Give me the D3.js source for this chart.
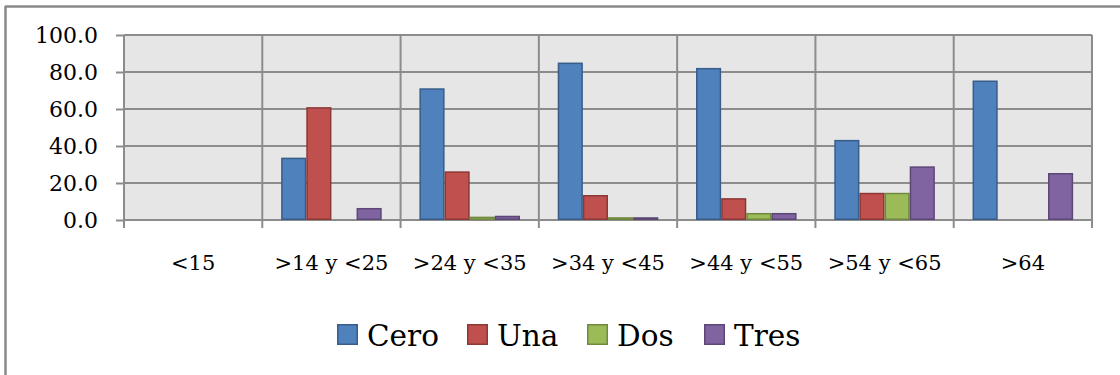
<!DOCTYPE html>
<html><head><meta charset="utf-8">
<script src="https://cdn.jsdelivr.net/npm/d3@7"></script>
<style>html,body{margin:0;padding:0;background:#fff;} svg{display:block;}</style>
</head><body>
<svg id="chart" width="1120" height="375"></svg>
<script>
const categories = ["<15", ">14 y <25", ">24 y <35", ">34 y <45", ">44 y <55", ">54 y <65", ">64"];
const seriesNames = ["Cero", "Una", "Dos", "Tres"];
const cero = [0, 33.3, 70.8, 84.7, 81.8, 42.9, 75.0];
const una  = [0, 60.6, 25.9, 13.1, 11.4, 14.3, 0];
const dos  = [0, 0, 1.4, 1.1, 3.4, 14.3, 0];
const tres = [0, 6.1, 1.9, 1.1, 3.4, 28.6, 25.0];
const yTicks = [0, 20, 40, 60, 80, 100];
const fills = ["#4F81BD", "#C0504D", "#9BBB59", "#8064A2"];
const strokes = ["#385D8A", "#8C3836", "#71893F", "#5C4776"];

const values = [cero, una, dos, tres];
const svg = d3.select("#chart");
const font = "'DejaVu Serif', serif";

// outer frame (only left/top visible)
svg.append("line").attr("x1", 5.5).attr("x2", 5.5).attr("y1", 6).attr("y2", 375).attr("stroke", "#8a8a8a").attr("stroke-width", 2.5);
svg.append("line").attr("x1", 5).attr("x2", 1120).attr("y1", 6.5).attr("y2", 6.5).attr("stroke", "#8a8a8a").attr("stroke-width", 2.5);

const L = 124, R = 1092, T = 35, B = 220;
const x0 = d3.scaleBand().domain(categories).range([L, R]).paddingInner(0).paddingOuter(0);
const gw = x0.bandwidth();
const barW = gw / 5.5;
const x1 = d3.scaleBand().domain(seriesNames).range([0.75 * barW, gw - 0.75 * barW]).padding(0);
const y = d3.scaleLinear().domain([0, 100]).range([B, T]);

// plot background
svg.append("rect").attr("x", L).attr("y", T).attr("width", R - L).attr("height", B - T).attr("fill", "#E6E6E6");

const gridColor = "#8c8c8c";
// horizontal gridlines
svg.append("g").selectAll("line").data(yTicks).join("line")
  .attr("x1", L).attr("x2", R).attr("y1", d => y(d)).attr("y2", d => y(d))
  .attr("stroke", gridColor).attr("stroke-width", 2);
// vertical gridlines at category boundaries
const bounds = categories.map(c => x0(c)).concat([R]);
svg.append("g").selectAll("line").data(bounds).join("line")
  .attr("x1", d => d).attr("x2", d => d).attr("y1", T).attr("y2", B + 8)
  .attr("stroke", gridColor).attr("stroke-width", 2);

// bars
const barData = [];
categories.forEach((c, i) => seriesNames.forEach((s, j) => {
  if (values[j][i] > 0) barData.push({c, s, j, v: values[j][i]});
}));
svg.append("g").selectAll("rect").data(barData).join("rect")
  .attr("x", d => x0(d.c) + x1(d.s) + 0.75)
  .attr("width", x1.bandwidth() - 1.5)
  .attr("y", d => y(d.v))
  .attr("height", d => Math.max(0, B - y(d.v) - 0.75))
  .attr("fill", d => fills[d.j])
  .attr("stroke", d => strokes[d.j]).attr("stroke-width", 1.5);

// y axis
const yAxis = d3.axisLeft(y).tickValues(yTicks).tickSize(8).tickPadding(18).tickFormat(d3.format(".1f"));
const ya = svg.append("g").attr("transform", `translate(${L},0)`).call(yAxis);
ya.select(".domain").remove();
ya.selectAll(".tick line").attr("stroke", gridColor).attr("stroke-width", 2);
ya.selectAll(".tick text").attr("font-family", font).attr("font-size", 22).attr("fill", "#000");

// x axis labels
const xa = d3.axisBottom(x0).tickSize(0).tickPadding(0);
const xg = svg.append("g").attr("transform", `translate(0,${B})`).call(xa);
xg.select(".domain").remove();
xg.selectAll(".tick text").attr("font-family", font).attr("font-size", 21).attr("fill", "#000")
  .attr("dy", null).attr("y", 50);

// legend
const legendX = [337, 467, 587, 704];
const lg = svg.append("g");
seriesNames.forEach((s, j) => {
  lg.append("rect").attr("x", legendX[j] + 0.75).attr("y", 324.75).attr("width", 19.5).attr("height", 19.5)
    .attr("fill", fills[j]).attr("stroke", strokes[j]).attr("stroke-width", 1.5);
  lg.append("text").attr("x", legendX[j] + 30).attr("y", 346).attr("font-family", font).attr("font-size", 29.5)
    .attr("fill", "#000").text(s);
});
</script>
</body></html>
